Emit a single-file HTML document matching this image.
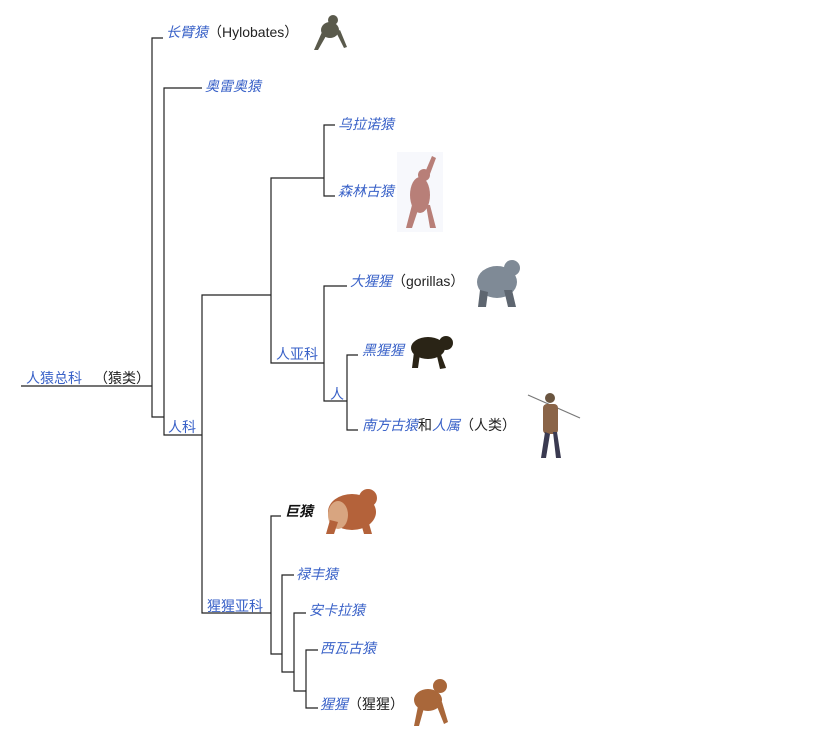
<!DOCTYPE html>
<html><head><meta charset="utf-8"><style>
html,body{margin:0;padding:0;background:#fff;width:820px;height:753px;overflow:hidden}
svg{display:block}
text{font-family:"Liberation Sans","Noto Sans CJK SC",sans-serif;font-size:14px}
.l{fill:#3a62c8;font-style:italic}
.n{fill:#3a62c8}
.k{fill:#222}
</style></head><body>
<svg width="820" height="753" viewBox="0 0 820 753">
<g stroke="#222" stroke-width="1.2" fill="none">
<path d="M21 386H152M163 38H152V417H164"/>
<path d="M202 88H164V435H202"/>
<path d="M271 295H202V613H271"/>
<path d="M324 178H271V363H324"/>
<path d="M335 125H324V196H335"/>
<path d="M347 286H324V401H347"/>
<path d="M358 355H347V430H358"/>
<path d="M281 516H271V654H282"/>
<path d="M294 575H282V672H294"/>
<path d="M306 613H294V691H306"/>
<path d="M318 650H306V708H318"/>
</g>
<text x="26" y="383" class="n">人猿总科</text><text x="94" y="383" class="k">（猿类）</text>
<text x="166" y="37" class="l">长臂猿</text><text x="208" y="37" class="k">（Hylobates）</text>
<text x="205" y="91" class="l">奥雷奥猿</text>
<text x="338" y="129" class="l">乌拉诺猿</text>
<text x="338" y="196" class="l">森林古猿</text>
<text x="350" y="286" class="l">大猩猩</text><text x="392" y="286" class="k">（gorillas）</text>
<text x="276" y="359" class="n">人亚科</text>
<text x="362" y="355" class="l">黑猩猩</text>
<text x="330" y="399" class="n">人</text>
<text x="362" y="430" class="l">南方古猿</text><text x="418" y="430" class="k">和</text><text x="432" y="430" class="l">人属</text><text x="460" y="430" class="k">（人类）</text>
<text x="168" y="432" class="n">人科</text>
<text x="207" y="611" class="n">猩猩亚科</text>
<text x="285" y="516" fill="#111" font-style="italic" font-weight="bold">巨猿</text>
<text x="296" y="579" class="l">禄丰猿</text>
<text x="309" y="615" class="l">安卡拉猿</text>
<text x="320" y="653" class="l">西瓦古猿</text>
<text x="320" y="709" class="l">猩猩</text><text x="348" y="709" class="k">（猩猩）</text>
<!-- animals -->
<g fill="#5a5a4c"><ellipse cx="330" cy="30" rx="9" ry="8"/><circle cx="333" cy="20" r="5"/><path d="M322 32L314 50L318 50L326 36ZM336 32L344 48L347 47L340 30Z"/></g>
<rect x="397" y="152" width="46" height="80" fill="#f7f8fc"/>
<g fill="#b87f78"><ellipse cx="420" cy="195" rx="10" ry="18"/><circle cx="424" cy="175" r="6"/><path d="M426 170L432 156L436 158L430 174Z"/><path d="M412 205L406 228L412 228L418 210ZM426 205L430 228L436 228L430 205Z"/></g>
<g fill="#7f8a96"><ellipse cx="497" cy="282" rx="20" ry="16"/><circle cx="512" cy="268" r="8"/><path d="M480 290L478 307L486 307L488 292ZM504 290L508 307L516 307L512 290Z" fill="#5e6670"/></g>
<g fill="#2a2416"><ellipse cx="428" cy="348" rx="17" ry="11"/><circle cx="446" cy="343" r="7"/><path d="M414 352L412 368L418 368L420 354ZM436 352L440 369L446 368L440 352Z"/></g>
<line x1="528" y1="395" x2="580" y2="418" stroke="#777" stroke-width="1.2"/>
<g fill="#6a5540"><circle cx="550" cy="398" r="5"/><rect x="543" y="404" width="15" height="30" rx="4" fill="#8a6448"/><path d="M545 432L541 458L546 458L550 434ZM553 432L556 458L561 458L557 432Z" fill="#3a3a50"/></g>
<g fill="#b4623a"><ellipse cx="352" cy="512" rx="24" ry="18"/><circle cx="368" cy="498" r="9"/><ellipse cx="338" cy="515" rx="10" ry="14" fill="#d8a580"/><path d="M330 520L326 534L334 534L338 522ZM360 520L364 534L372 534L368 520Z"/></g>
<g fill="#a9673a"><ellipse cx="428" cy="700" rx="14" ry="11"/><circle cx="440" cy="686" r="7"/><path d="M418 706L414 726L419 726L424 708ZM436 704L444 724L448 722L442 702Z"/></g>
</svg>
</body></html>
